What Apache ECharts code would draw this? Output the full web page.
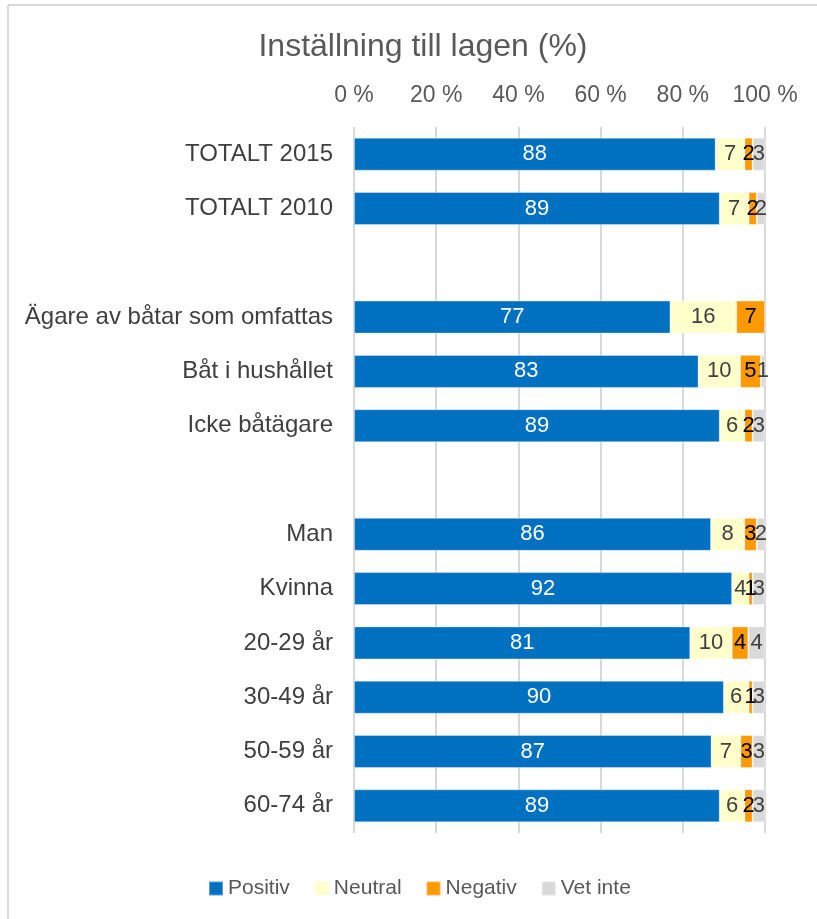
<!DOCTYPE html>
<html>
<head>
<meta charset="utf-8">
<script src="https://cdn.jsdelivr.net/npm/echarts@6/dist/echarts.min.js"></script>
<style>html,body{margin:0;padding:0;background:#fff}#c{width:817px;height:919px}</style>
</head>
<body>
<div id="c"></div>
<script>
const categories = ['TOTALT 2015','TOTALT 2010','','Ägare av båtar som omfattas','Båt i hushållet','Icke båtägare','','Man','Kvinna','20-29 år','30-49 år','50-59 år','60-74 år'];
const positiv = [88, 89, null, 77, 83, 89, null, 86, 92, 81, 90, 87, 89];
const neutral = [7, 7, null, 16, 10, 6, null, 8, 4, 10, 6, 7, 6];
const negativ = [2, 2, null, 7, 5, 2, null, 3, 1, 4, 1, 3, 2];
const vetInte = [3, 2, null, null, 1, 3, null, 2, 3, 4, 3, 3, 3];
const tickLabels = ['0 %','20 %','40 %','60 %','80 %','100 %'];

const seriesDefs = [
  {name:'Positiv', data:positiv, color:'#0070C0', labelColor:'#ffffff'},
  {name:'Neutral', data:neutral, color:'#FFFFCC', labelColor:'#404040'},
  {name:'Negativ', data:negativ, color:'#FF9900', labelColor:'#000000'},
  {name:'Vet inte', data:vetInte, color:'#D9D9D9', labelColor:'#404040'}
];
const totals = categories.map((c,i)=>seriesDefs.reduce((s,d)=>s+(d.data[i]||0),0));

const chart = echarts.init(document.getElementById('c'), null, {renderer:'canvas'});
chart.setOption({
  animation:false,
  backgroundColor:'#ffffff',
  title:{text:'Inställning till lagen (%)', left:418, textAlign:'center', top:26,
    textStyle:{fontFamily:'Liberation Sans, Arial', fontSize:32, fontWeight:'normal', color:'#595959'}},
  legend:{top:873, left:203, itemWidth:14, itemHeight:14, itemGap:24, icon:'rect',
    textStyle:{fontFamily:'Liberation Sans, Arial', fontSize:21, color:'#595959'},
    data:seriesDefs.map(d=>d.name)},
  grid:{left:354, right:52, top:127, bottom:86, containLabel:false},
  xAxis:{type:'value', position:'top', min:0, max:100, interval:20,
    axisLine:{show:false}, axisTick:{show:false},
    splitLine:{show:true, lineStyle:{color:'#D9D9D9', width:2}},
    axisLabel:{margin:20, fontFamily:'Liberation Sans, Arial', fontSize:23, color:'#595959',
      formatter:(v)=>tickLabels[Math.round(v/20)]}},
  yAxis:{type:'category', inverse:true, data:categories,
    axisLine:{show:false}, axisTick:{show:false},
    axisLabel:{margin:21, fontFamily:'Liberation Sans, Arial', fontSize:24, color:'#404040'}},
  graphic:[
    {type:'line', shape:{x1:8,y1:5,x2:817,y2:5}, style:{stroke:'#D9D9D9', lineWidth:2}},
    {type:'line', shape:{x1:8,y1:5,x2:8,y2:919}, style:{stroke:'#D9D9D9', lineWidth:2}}
  ],
  series:seriesDefs.map(d=>({
    name:d.name, type:'bar', stack:'total', barWidth:33,
    itemStyle:{color:d.color, borderColor:'rgba(255,255,255,0.35)', borderWidth:1},
    label:{show:true, position:'inside', color:d.labelColor, fontFamily:'Liberation Sans, Arial', fontSize:22,
      formatter:(p)=>d.data[p.dataIndex]==null?'':String(d.data[p.dataIndex])},
    data:d.data.map((v,i)=>v==null?'-':v/totals[i]*100)
  }))
});
</script>
</body>
</html>
